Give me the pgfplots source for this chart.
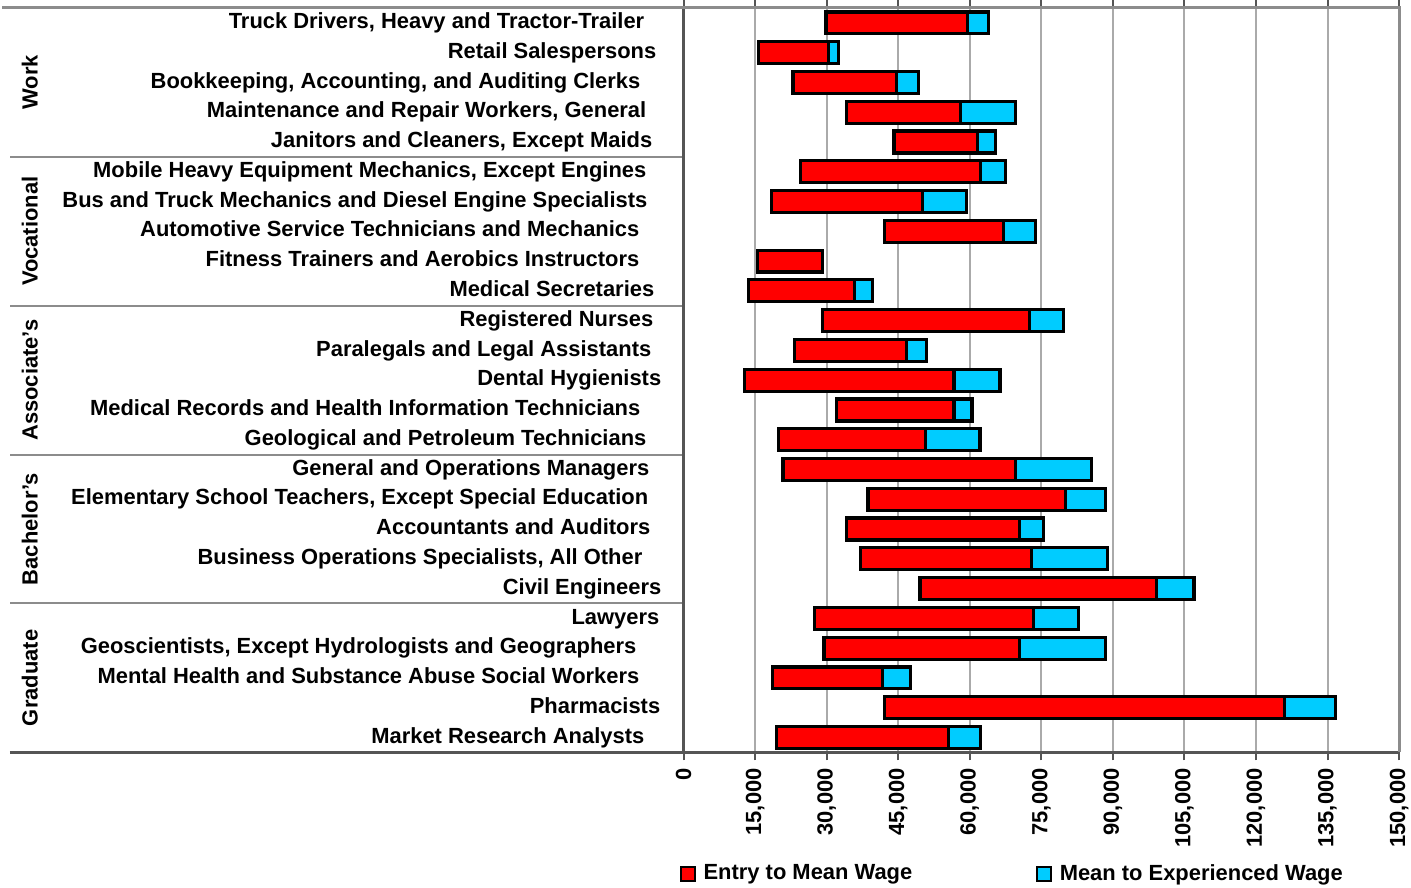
\documentclass[border=0pt]{standalone}
\usepackage{fontspec}
\setmainfont{Liberation Sans}
\usepackage{pgfplots}
\usepackage{pgfplotstable}
\pgfplotsset{compat=1.18}
\definecolor{barred}{RGB}{255,0,0}
\definecolor{barblue}{RGB}{0,204,255}
\definecolor{gridgray}{RGB}{170,170,170}
\definecolor{framegray}{RGB}{140,140,140}
\definecolor{axisdark}{RGB}{85,85,85}
\newcommand{\lbl}{\fontsize{11}{13}\selectfont\bfseries}

\pgfplotstableread{
row entry mean exp
1 29850 59600 63850
2 15750 30400 32550
3 22950 44600 49250
4 34150 58000 69650
5 44100 61700 65450
6 24550 62200 67550
7 18350 50100 59250
8 42050 67100 73850
9 15450 29150 29150
10 13650 35900 39650
11 29100 72500 79650
12 23250 46700 50900
13 12850 56700 66350
14 32050 56700 60450
15 19950 50800 62150
16 20850 69600 85450
17 38650 80000 88400
18 34150 70400 75450
19 37050 72900 88850
20 49550 99100 107000
21 27450 73400 82850
22 29450 70400 88450
23 18650 41700 47650
24 42050 126000 136650
25 19550 55500 62250
}\wages

\begin{document}
\begin{tikzpicture}
\begin{axis}[
  width=359pt, height=373.5pt, scale only axis,
  xbar stacked, bar width=11pt,
  xmin=0, xmax=150000, ymin=0.5, ymax=25.5, y dir=reverse,
  xtick={0,15000,30000,45000,60000,75000,90000,105000,120000,135000,150000},
  xticklabels={0,{15,000},{30,000},{45,000},{60,000},{75,000},{90,000},{105,000},{120,000},{135,000},{150,000}},
  scaled x ticks=false,
  ytick={1,...,25},
  yticklabels={
    {Truck Drivers, Heavy and Tractor-Trailer\hspace*{9pt}},
    {Retail Salespersons\hspace*{3pt}},
    {Bookkeeping, Accounting, and Auditing Clerks\hspace*{11pt}},
    {Maintenance and Repair Workers, General\hspace*{8pt}},
    {Janitors and Cleaners, Except Maids\hspace*{5pt}},
    {Mobile Heavy Equipment Mechanics, Except Engines\hspace*{8pt}},
    {Bus and Truck Mechanics and Diesel Engine Specialists\hspace*{7.5pt}},
    {Automotive Service Technicians and Mechanics\hspace*{11.5pt}},
    {Fitness Trainers and Aerobics Instructors\hspace*{11.5pt}},
    {Medical Secretaries\hspace*{4pt}},
    {Registered Nurses\hspace*{4.5pt}},
    {Paralegals and Legal Assistants\hspace*{5.5pt}},
    {Dental Hygienists\hspace*{0.5pt}},
    {Medical Records and Health Information Technicians\hspace*{11pt}},
    {Geological and Petroleum Technicians\hspace*{8pt}},
    {General and Operations Managers\hspace*{6.5pt}},
    {Elementary School Teachers, Except Special Education\hspace*{7pt}},
    {Accountants and Auditors\hspace*{6pt}},
    {Business Operations Specialists, All Other\hspace*{10pt}},
    {Civil Engineers\hspace*{0.5pt}},
    {Lawyers\hspace*{1.5pt}},
    {Geoscientists, Except Hydrologists and Geographers\hspace*{13pt}},
    {Mental Health and Substance Abuse Social Workers\hspace*{11.5pt}},
    {Pharmacists\hspace*{1pt}},
    {Market Research Analysts\hspace*{9pt}}
  },
  axis line style={draw=none},
  xmajorgrids, grid style={gridgray, line width=1pt},
  tick align=outside, major tick length=4pt,
  xtick style={axisdark, line width=1pt},
  ytick style={draw=none},
  xticklabel style={rotate=90, anchor=east, font=\lbl, xshift=-0.5pt},
  yticklabel style={anchor=east, font=\lbl, inner sep=0pt, xshift=-6.5pt,
    text height=8pt, text depth=2.3pt},
  clip=false,
  legend columns=2,
  legend style={at={(axis description cs:-0.006,-0.163)}, anchor=west, draw=none,
    font=\lbl, inner sep=0pt,
    /tikz/every even column/.append style={column sep=60pt}},
  legend image code/.code={\draw[#1, line width=1pt] (0pt,-3.5pt) rectangle (7pt,3.5pt);},
]
\addplot[draw=none, fill=none, forget plot] table[x=entry, y=row]{\wages};
\addplot[fill=barred, draw=black, line width=1.6pt] table[x expr=\thisrow{mean}-\thisrow{entry}, y=row]{\wages};
\addlegendentry{\hspace*{2pt}Entry to Mean Wage}
\addplot[fill=barblue, draw=black, line width=1.6pt] table[x expr=\thisrow{exp}-\thisrow{mean}, y=row]{\wages};
\addlegendentry{\hspace*{2pt}Mean to Experienced Wage}

% frame and separators
\draw[framegray, line width=1.5pt] (axis description cs:-0.9526,1) -- (axis description cs:1,1) -- (axis description cs:1,0);
\draw[axisdark, line width=1.5pt] (axis description cs:-0.9415,0) -- (axis description cs:1,0);
\draw[axisdark, line width=1.5pt] (axis description cs:0,0) -- (axis description cs:0,1);
\draw[framegray, line width=1pt] (axis cs:0,5.5) -- ++(-338pt,0pt);
\draw[framegray, line width=1pt] (axis cs:0,10.5) -- ++(-338pt,0pt);
\draw[framegray, line width=1pt] (axis cs:0,15.5) -- ++(-338pt,0pt);
\draw[framegray, line width=1pt] (axis cs:0,20.5) -- ++(-338pt,0pt);
\node[rotate=90, font=\lbl] at ([xshift=-328pt]axis cs:0,3) {Work};
\node[rotate=90, font=\lbl] at ([xshift=-328pt]axis cs:0,8) {Vocational};
\node[rotate=90, font=\lbl] at ([xshift=-328pt]axis cs:0,13) {Associate's};
\node[rotate=90, font=\lbl] at ([xshift=-328pt]axis cs:0,18) {Bachelor's};
\node[rotate=90, font=\lbl] at ([xshift=-328pt]axis cs:0,23) {Graduate};
\coordinate (O) at (axis description cs:0,0);
\end{axis}
\pgfresetboundingbox
\path[use as bounding box] ([shift={(-343pt,-68pt)}]O) rectangle ([shift={(365pt,377.5pt)}]O);
\end{tikzpicture}
\end{document}
